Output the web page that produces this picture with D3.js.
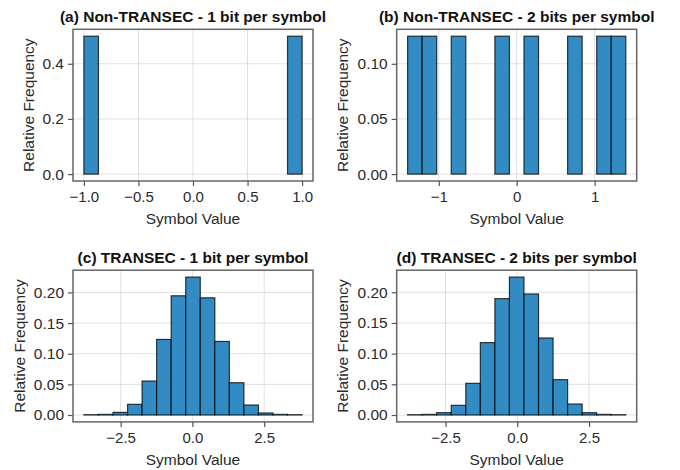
<!DOCTYPE html>
<html><head><meta charset="utf-8">
<script src="https://cdn.jsdelivr.net/npm/d3@7"></script>
<style>
html,body{margin:0;padding:0;background:#fff;}
svg{display:block;font-family:"Liberation Sans",Arial,Helvetica,sans-serif;}
</style></head>
<body><svg id="chart" width="680" height="470"></svg>
<script>
// ---- data ----
const titles = [
  "(a) Non-TRANSEC - 1 bit per symbol",
  "(b) Non-TRANSEC - 2 bits per symbol",
  "(c) TRANSEC - 1 bit per symbol",
  "(d) TRANSEC - 2 bits per symbol"
];
// bin edge ranges (15 equal bins each)
const rangeA = [-1.0, 1.0];
const rangeB = [-1.4, 1.4];
const rangeC = [-3.78, 3.82];
const rangeD = [-3.82, 3.78];
// relative frequency per bin
const freqA = [0.5,0,0,0,0,0,0,0,0,0,0,0,0,0,0.5];
const freqB = [0.125,0.125,0,0.125,0,0,0.125,0,0.125,0,0,0.125,0,0.125,0.125];
const freqC = [0.0005,0.001,0.0043,0.0174,0.0554,0.1233,0.1945,0.2250,0.1912,0.1200,0.0527,0.0163,0.0033,0.001,0.0005];
const freqD = [0.0005,0.001,0.0038,0.0158,0.0516,0.1180,0.1896,0.2247,0.1972,0.1255,0.0576,0.0179,0.0038,0.001,0.0005];
// tick values
const xTicksA = [-1.0,-0.5,0.0,0.5,1.0];
const xTicksB = [-1,0,1];
const xTicksC = [-2.5,0.0,2.5];
const xTicksD = [-2.5,0.0,2.5];
const yTicksA = [0.0,0.2,0.4];
const yTicksB = [0.00,0.05,0.10];
const yTicksC = [0.00,0.05,0.10,0.15,0.20];
const yTicksD = [0.00,0.05,0.10,0.15,0.20];
const xFmt = [d3.format(".1f"), d3.format("d"), d3.format(".1f"), d3.format(".1f")];
const yFmt = [d3.format(".1f"), d3.format(".2f"), d3.format(".2f"), d3.format(".2f")];
const xLabel = "Symbol Value";
const yLabel = "Relative Frequency";

// ---- layout ----
const panels = [
  {title:titles[0], range:rangeA, freq:freqA, xt:xTicksA, yt:yTicksA, xf:xFmt[0], yf:yFmt[0], x0:73,  y0:29.3, ylOff:39.5},
  {title:titles[1], range:rangeB, freq:freqB, xt:xTicksB, yt:yTicksB, xf:xFmt[1], yf:yFmt[1], x0:396.7,y0:29.3, ylOff:48.5},
  {title:titles[2], range:rangeC, freq:freqC, xt:xTicksC, yt:yTicksC, xf:xFmt[2], yf:yFmt[2], x0:73,  y0:270.2, ylOff:48},
  {title:titles[3], range:rangeD, freq:freqD, xt:xTicksD, yt:yTicksD, xf:xFmt[3], yf:yFmt[3], x0:396.7,y0:270.2, ylOff:48.5}
];
const W = 240, H = 151.7;
const svg = d3.select("#chart");
const fill = "rgb(50,140,195)";
const minus = s => s.replace("-", "\u2212");

panels.forEach(p => {
  const g = svg.append("g").attr("transform", `translate(${p.x0},${p.y0})`);
  const n = p.freq.length;
  const step = (p.range[1]-p.range[0])/n;
  const bins = p.freq.map((v,i)=>({x0:p.range[0]+i*step, x1:p.range[0]+(i+1)*step, v}));
  const span = p.range[1]-p.range[0];
  const x = d3.scaleLinear().domain([p.range[0]-0.05*span, p.range[1]+0.05*span]).range([0,W]);
  const ymax = d3.max(p.freq);
  const y = d3.scaleLinear().domain([-0.05*ymax, 1.05*ymax]).range([H,0]);

  // grid
  g.append("g").selectAll("line.gx").data(p.xt).join("line")
    .attr("x1",d=>x(d)).attr("x2",d=>x(d)).attr("y1",0).attr("y2",H)
    .attr("stroke","rgba(0,0,0,0.12)").attr("stroke-width",1);
  g.append("g").selectAll("line.gy").data(p.yt).join("line")
    .attr("y1",d=>y(d)).attr("y2",d=>y(d)).attr("x1",0).attr("x2",W)
    .attr("stroke","rgba(0,0,0,0.12)").attr("stroke-width",1);

  // bars
  g.append("g").selectAll("rect").data(bins).join("rect")
    .attr("x",d=>x(d.x0)).attr("width",d=>x(d.x1)-x(d.x0))
    .attr("y",d=>y(d.v)).attr("height",d=>y(0)-y(d.v))
    .attr("fill",fill).attr("stroke","rgba(0,0,0,0.75)").attr("stroke-width",1.2);

  // frame
  g.append("rect").attr("x",0).attr("y",0).attr("width",W).attr("height",H)
    .attr("fill","none").attr("stroke","#666").attr("stroke-width",1.5);

  // axes
  const ax = g.append("g").attr("transform",`translate(0,${H})`)
    .call(d3.axisBottom(x).tickValues(p.xt).tickFormat(d=>minus(p.xf(d))).tickSizeOuter(0).tickSizeInner(5).tickPadding(5));
  const ay = g.append("g")
    .call(d3.axisLeft(y).tickValues(p.yt).tickFormat(d=>minus(p.yf(d))).tickSizeOuter(0).tickSizeInner(5).tickPadding(4));
  [ax,ay].forEach(a=>{
    a.select(".domain").remove();
    a.selectAll(".tick line").attr("stroke","#555").attr("stroke-width",1.2);
    a.selectAll(".tick text").attr("fill","#2a2a2a");
  });
  ax.selectAll(".tick text").style("font-size","15px");
  ay.selectAll(".tick text").style("font-size","15.5px");

  // title
  g.append("text").attr("x",W/2).attr("y",-7).attr("text-anchor","middle")
    .style("font-size","15.5px").style("font-weight","bold").attr("fill","#111").text(p.title);
  // x label
  g.append("text").attr("x",W/2).attr("y",H+43.5).attr("text-anchor","middle")
    .style("font-size","15.5px").attr("fill","#2a2a2a").text(xLabel);
  // y label
  g.append("text").attr("transform",`translate(${-p.ylOff},${H/2}) rotate(-90)`).attr("text-anchor","middle")
    .style("font-size","15.5px").attr("fill","#2a2a2a").text(yLabel);
});
</script></body></html>
